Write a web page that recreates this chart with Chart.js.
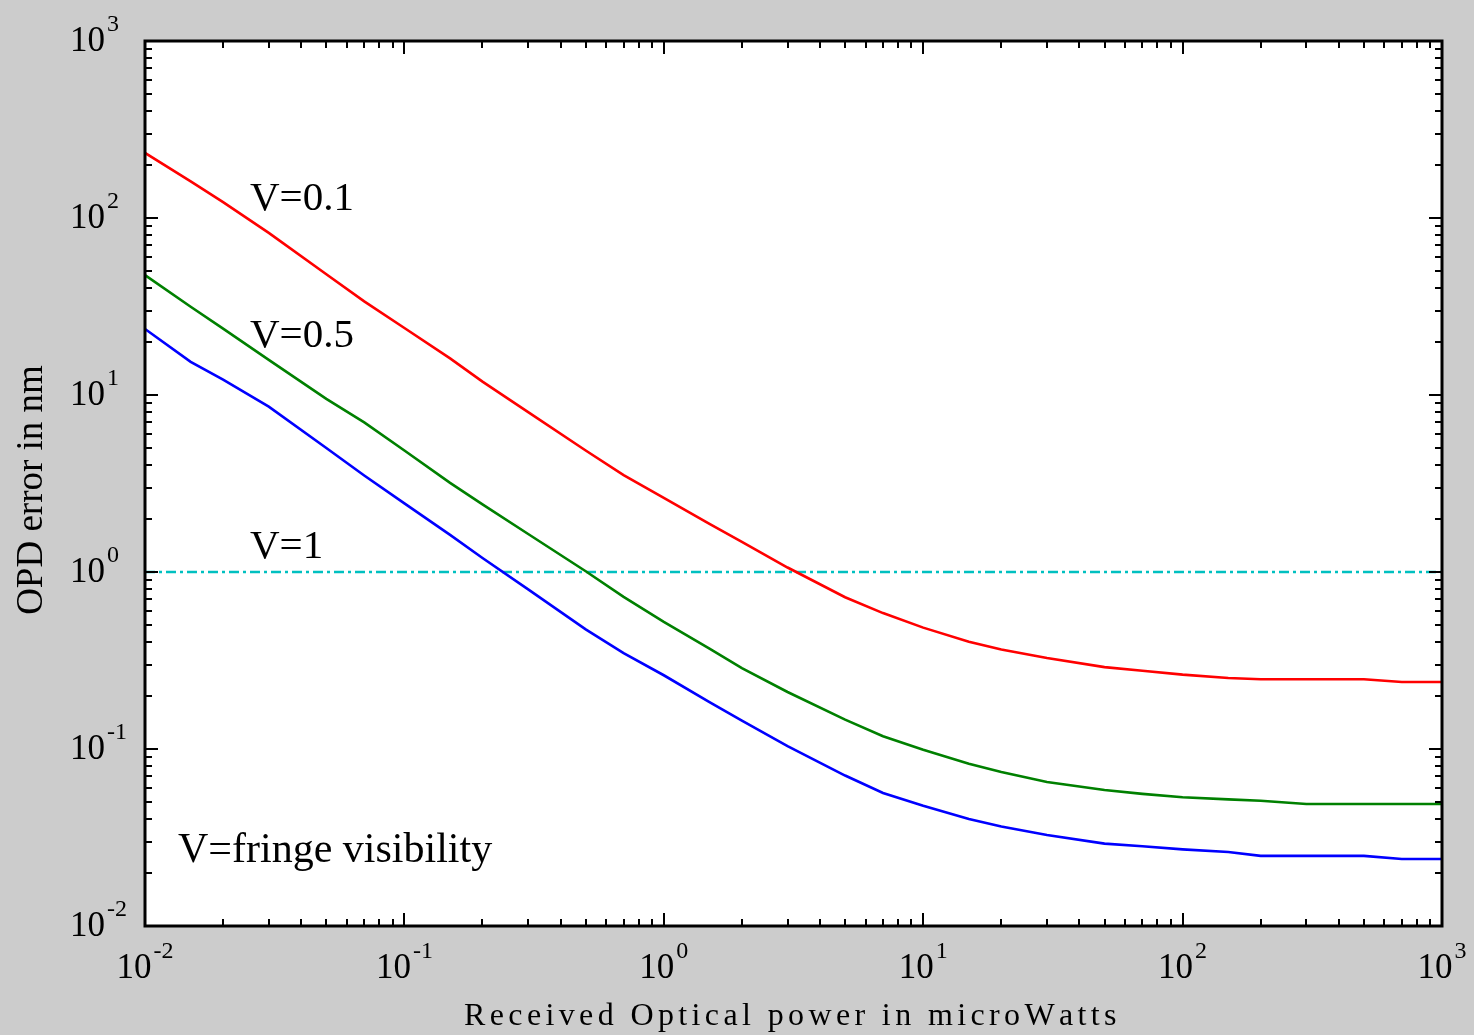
<!DOCTYPE html>
<html>
<head>
<meta charset="utf-8">
<script src="https://cdn.jsdelivr.net/npm/chart.js@4.4.0/dist/chart.umd.min.js"></script>
<style>
  html, body { margin: 0; padding: 0; background: #cccccc; }
  canvas { display: block; }
</style>
</head>
<body>
<canvas id="opd_chart" width="1474" height="1035"></canvas>
<script>
// received optical power (microWatts)
const powerUW = [0.01, 0.015, 0.02, 0.03, 0.05, 0.07, 0.1, 0.15, 0.2, 0.3, 0.5, 0.7,
    1, 1.5, 2, 3, 5, 7, 10, 15, 20, 30, 50, 70, 100, 150, 200, 300, 500, 700, 1000];
// OPD error in nm for each fringe visibility
const opdV01 = [233, 161, 123, 82.4, 48.1, 33.8, 23.9, 16.1, 11.9, 8.0, 4.86, 3.53,
    2.62, 1.87, 1.48, 1.06, 0.72, 0.586, 0.485, 0.404, 0.365, 0.327, 0.290, 0.277,
    0.263, 0.252, 0.248, 0.248, 0.248, 0.239, 0.239];
const opdV05 = [47.6, 31.5, 23.7, 15.8, 9.5, 7.0, 4.86, 3.19, 2.41, 1.64, 1.01, 0.723,
    0.522, 0.369, 0.286, 0.210, 0.1465, 0.118, 0.099, 0.0826, 0.0741, 0.0651, 0.0586, 0.0558,
    0.0534, 0.0519, 0.0510, 0.0489, 0.0489, 0.0489, 0.0489];
const opdV1 = [23.6, 15.4, 12.2, 8.59, 5.02, 3.51, 2.44, 1.62, 1.20, 0.798, 0.474, 0.348,
    0.261, 0.184, 0.1446, 0.1038, 0.0708, 0.0564, 0.0478, 0.0402, 0.0365, 0.0327, 0.0292, 0.0282,
    0.0271, 0.0262, 0.0249, 0.0249, 0.0249, 0.0239, 0.0239];
// horizontal reference at 1 nm
const refX = [0.01, 1000];
const refY = [1, 1];
// decade tick exponents
const xTickExp = [-2, -1, 0, 1, 2, 3];
const yTickExp = [-2, -1, 0, 1, 2, 3];

const SERIF = '"Liberation Serif", "Times New Roman", serif';

function toPoints(xs, ys) {
    return xs.map((x, i) => ({x: x, y: ys[i]}));
}

function drawPow(ctx, left, baseline, exp) {
    ctx.font = '35px ' + SERIF;
    ctx.textAlign = 'left';
    ctx.textBaseline = 'alphabetic';
    ctx.fillText('10', left, baseline);
    let w = ctx.measureText('10').width;
    ctx.font = '24px ' + SERIF;
    ctx.fillText(String(exp), left + w + 2, baseline - 20);
}

function powWidth(ctx, exp) {
    ctx.font = '35px ' + SERIF;
    let w = ctx.measureText('10').width;
    ctx.font = '24px ' + SERIF;
    return w + 2 + ctx.measureText(String(exp)).width;
}

const framePlugin = {
    id: 'framePlugin',
    beforeDraw(chart) {
        const ctx = chart.ctx;
        const a = chart.chartArea;
        ctx.save();
        ctx.fillStyle = '#cccccc';
        ctx.fillRect(0, 0, chart.width, chart.height);
        ctx.fillStyle = '#ffffff';
        ctx.fillRect(a.left, a.top, a.right - a.left, a.bottom - a.top);
        ctx.restore();
    },
    afterDraw(chart) {
        const ctx = chart.ctx;
        const a = chart.chartArea;
        const xs = chart.scales.x;
        const ys = chart.scales.y;
        ctx.save();
        ctx.strokeStyle = '#000';
        ctx.fillStyle = '#000';

        // minor / major ticks on all four sides, pointing inward
        ctx.lineWidth = 2;
        ctx.beginPath();
        for (let e = -2; e <= 3; e++) {
            for (let m = 1; m <= 9; m++) {
                if (e === 3 && m > 1) break;
                const v = m * Math.pow(10, e);
                const len = m === 1 ? 13 : 7;
                const px = Math.round(xs.getPixelForValue(v));
                ctx.moveTo(px, a.bottom); ctx.lineTo(px, a.bottom - len);
                ctx.moveTo(px, a.top); ctx.lineTo(px, a.top + len);
                const py = Math.round(ys.getPixelForValue(v));
                ctx.moveTo(a.left, py); ctx.lineTo(a.left + len, py);
                ctx.moveTo(a.right, py); ctx.lineTo(a.right - len, py);
            }
        }
        ctx.stroke();

        // box
        ctx.lineWidth = 3;
        ctx.strokeRect(a.left, a.top, a.right - a.left, a.bottom - a.top);

        // tick labels
        xTickExp.forEach(e => {
            const px = xs.getPixelForValue(Math.pow(10, e));
            drawPow(ctx, px - powWidth(ctx, e) / 2, a.bottom + 52, e);
        });
        yTickExp.forEach(e => {
            const py = ys.getPixelForValue(Math.pow(10, e));
            drawPow(ctx, 70, py + 10, e);
        });

        // x axis title, spread out like the original
        const title = 'Received Optical power in microWatts';
        ctx.font = '32px ' + SERIF;
        ctx.textAlign = 'left';
        const natural = ctx.measureText(title).width;
        const span = 650;
        const extra = (span - natural) / (title.length - 1);
        let cx = 464;
        for (const ch of title) {
            ctx.fillText(ch, cx, 1025);
            cx += ctx.measureText(ch).width + extra;
        }

        // y axis title
        ctx.save();
        ctx.translate(42, 490);
        ctx.rotate(-Math.PI / 2);
        ctx.font = '37px ' + SERIF;
        ctx.textAlign = 'center';
        ctx.fillText('OPD error in nm', 0, 0);
        ctx.restore();

        // curve annotations
        ctx.font = '41px ' + SERIF;
        ctx.textAlign = 'left';
        ctx.fillText('V=0.1', 250, 210);
        ctx.fillText('V=0.5', 250, 347);
        ctx.fillText('V=1', 250, 558);
        ctx.font = '42px ' + SERIF;
        ctx.fillText('V=fringe visibility', 178, 862);
        ctx.restore();
    }
};

var ctx = document.getElementById('opd_chart');
window.opdChart = new Chart(ctx, {
    type: 'line',
    data: {
        datasets: [{
            label: 'V=0.1',
            data: toPoints(powerUW, opdV01),
            borderColor: '#ff0000',
            borderWidth: 2.6
        }, {
            label: 'V=0.5',
            data: toPoints(powerUW, opdV05),
            borderColor: '#008000',
            borderWidth: 2.6
        }, {
            label: 'V=1',
            data: toPoints(powerUW, opdV1),
            borderColor: '#0000ff',
            borderWidth: 2.6
        }, {
            label: 'reference',
            data: toPoints(refX, refY),
            borderColor: '#00c0c0',
            borderWidth: 2.4,
            borderDash: [10, 4, 3, 4]
        }]
    },
    options: {
        responsive: false,
        animation: false,
        devicePixelRatio: 1,
        layout: {
            padding: {left: 145, top: 41, right: 32, bottom: 109}
        },
        elements: {
            point: {radius: 0},
            line: {tension: 0, fill: false}
        },
        plugins: {
            legend: {display: false},
            tooltip: {enabled: false}
        },
        scales: {
            x: {type: 'logarithmic', min: 0.01, max: 1000, display: false},
            y: {type: 'logarithmic', min: 0.01, max: 1000, display: false}
        }
    },
    plugins: [framePlugin]
});
</script>
</body>
</html>
